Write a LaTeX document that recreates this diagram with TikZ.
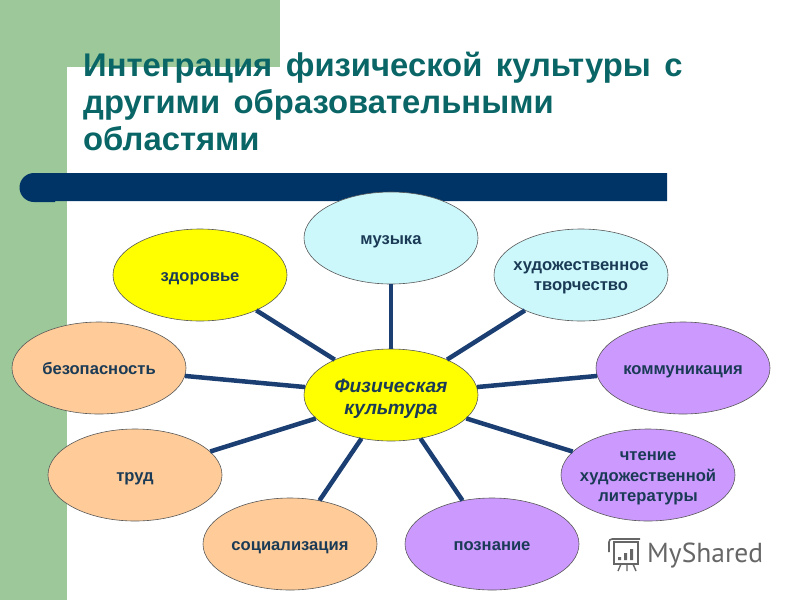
\documentclass[tikz,border=0pt]{standalone}
\usepackage{fontspec}
\setmainfont{Liberation Sans}
\newfontfamily\logofont{PT Sans}
\newfontfamily\titleface[WordSpace=1.48]{Liberation Sans}
\usetikzlibrary{shapes.geometric}
\definecolor{sagegreen}{HTML}{9DC99A}
\definecolor{barblue}{HTML}{003366}
\definecolor{titleteal}{HTML}{0A6666}
\definecolor{spokeblue}{HTML}{1B3F73}
\definecolor{palecyan}{HTML}{CCF8FC}
\definecolor{brightyellow}{HTML}{FFFF00}
\definecolor{peach}{HTML}{FFCC99}
\definecolor{lilac}{HTML}{CC99FF}
\definecolor{labelnavy}{HTML}{1A3A55}
\tikzset{
	lowered/.style={execute at begin node={\rule{0pt}{#1}}},
	topic/.style={ellipse,draw=black!65,line width=0.6pt,minimum width=174pt,minimum height=92pt,inner xsep=-15pt,inner ysep=-5pt,align=center,text=labelnavy,font=\fontsize{16.6}{20.5}\selectfont\bfseries,lowered=20.6pt,execute at end node={\rule[-0.46em]{0pt}{0pt}}},
	spoke/.style={draw=spokeblue,line width=4.5pt}
}
\begin{document}
\begin{tikzpicture}[x=1pt,y=-1pt]
	\useasboundingbox (0,0) rectangle (800,600);
	\fill[sagegreen] (0,0) rectangle (280,67);
	\fill[sagegreen] (0,0) rectangle (67,600);
	\fill[white] (67,600) -- (67,82) arc[start angle=180,end angle=270,radius=15] -- (280,67) -- (280,120) -- (67,120) -- cycle;
	\fill[barblue] (33,173) -- (667,173) -- (667,201) -- (55,201) -- (55,202) -- (34,202) arc[start angle=90,end angle=270,radius=14.5] -- cycle;
	\node[anchor=north west,inner sep=0pt,align=left,text=titleteal,font=\titleface\fontsize{32.8}{37}\selectfont\bfseries] (title) at (83,51.5) {Интеграция физической культуры с\\другими образовательными\\областями};
	\node[topic,fill=brightyellow,font=\fontsize{19.2}{22}\selectfont\bfseries\itshape,lowered=0pt] (fizkult) at (391,395) {\\[3pt]Физическая\\культура};
	\node[topic,fill=palecyan] (muzyka) at (391,238) {музыка};
	\node[topic,fill=palecyan,lowered=0pt] (tvorch) at (581,275) {\\[-2pt]художественное\\творчество};
	\node[topic,fill=lilac] (kommun) at (683,368) {коммуникация};
	\node[topic,fill=lilac,lowered=0pt] (chtenie) at (648,475) {\\[0pt]чтение\\художественной\\литературы};
	\node[topic,fill=lilac] (poznan) at (492,544) {познание};
	\node[topic,fill=peach] (social) at (290,544) {социализация};
	\node[topic,fill=peach] (trud) at (135,475) {труд};
	\node[topic,fill=peach] (bezop) at (99,368) {безопасность};
	\node[topic,fill=brightyellow] (zdorov) at (200,275) {здоровье};
	\foreach \other in {muzyka,tvorch,kommun,chtenie,poznan,social,trud,bezop,zdorov}
		\draw[spoke] (fizkult) -- (\other);
	% logo in the corner
	\node[anchor=west,inner sep=0pt,text=black!60,font=\fontsize{27.5}{27.5}\logofont] (brand) at (647,556) {MyShared};
	\draw[black!60,line width=1.6pt] (614,542) rectangle (638,564);
	\draw[black!60,line width=1.6pt] (612,539) -- (640,539) (612,539) arc[start angle=270,end angle=180,radius=3] -- (609,552);
	\draw[black!60,line width=1.4pt] (621,564) -- (618,571) (627,564) -- (627,571) (633,564) -- (636,571);
	\fill[black!60] (618,557) rectangle (621,560) (624,553) rectangle (627,560) (630,549) rectangle (633,560);
\end{tikzpicture}
\end{document}
